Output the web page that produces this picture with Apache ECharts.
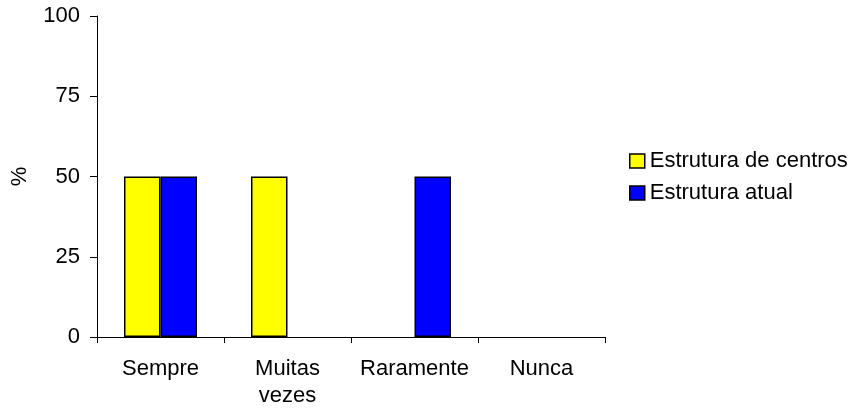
<!DOCTYPE html>
<html>
<head>
<meta charset="utf-8">
<style>
  html, body { margin: 0; padding: 0; background: #fff; }
  #chart { width: 854px; height: 408px; }
</style>
<script src="https://cdn.jsdelivr.net/npm/echarts@6/dist/echarts.min.js"></script>
</head>
<body>
<div id="chart"></div>
<script>
// Frequency categories and percentages for each structure
const categories = ['Sempre', 'Muitas\nvezes', 'Raramente', 'Nunca'];
const estruturaCentros = [50, 50, 0, 0];
const estruturaAtual = [50, 0, 50, 0];
const yTicks = [0, 25, 50, 75, 100];

const font = 'Liberation Sans, Arial, sans-serif';
const chart = echarts.init(document.getElementById('chart'));

// Zero-height bars get no outline so they leave no trace on the axis
function barData(values) {
  return values.map(v => v === 0
    ? { value: v, itemStyle: { borderWidth: 0, opacity: 0 } }
    : v);
}

chart.setOption({
  animation: false,
  backgroundColor: '#fff',
  textStyle: { fontFamily: font, color: '#000' },
  grid: {
    left: 97, right: 249, top: 16, bottom: 71,
    containLabel: false, outerBoundsMode: 'none'
  },
  legend: {
    orient: 'vertical',
    left: 629,
    top: 150,
    padding: 0,
    itemWidth: 15,
    itemHeight: 14,
    itemGap: 10,
    icon: 'rect',
    itemStyle: { borderColor: '#000', borderWidth: 1.5 },
    textStyle: { fontFamily: font, fontSize: 22, color: '#000' },
    data: ['Estrutura de centros', 'Estrutura atual']
  },
  xAxis: {
    type: 'category',
    data: categories,
    boundaryGap: true,
    axisLine: { lineStyle: { color: '#000', width: 1 } },
    axisTick: { show: true, length: 6, lineStyle: { color: '#000' } },
    axisLabel: {
      fontFamily: font, fontSize: 22, color: '#000',
      margin: 18, lineHeight: 27, interval: 0
    },
    splitLine: { show: false }
  },
  yAxis: {
    type: 'value',
    min: yTicks[0],
    max: yTicks[yTicks.length - 1],
    interval: yTicks[1] - yTicks[0],
    name: '%',
    nameLocation: 'middle',
    nameGap: 66,
    nameRotate: 90,
    nameTextStyle: { fontFamily: font, fontSize: 22, color: '#000' },
    axisLine: { show: true, lineStyle: { color: '#000', width: 1 } },
    axisTick: { show: true, length: 7, lineStyle: { color: '#000' } },
    axisLabel: { fontFamily: font, fontSize: 22, color: '#000', margin: 17 },
    splitLine: { show: false }
  },
  series: [
    {
      name: 'Estrutura de centros',
      type: 'bar',
      data: barData(estruturaCentros),
      barGap: '0%',
      barCategoryGap: '42.5%',
      itemStyle: { color: '#FFFF00', borderColor: '#000', borderWidth: 1.5 }
    },
    {
      name: 'Estrutura atual',
      type: 'bar',
      data: barData(estruturaAtual),
      barGap: '0%',
      barCategoryGap: '42.5%',
      itemStyle: { color: '#0000FF', borderColor: '#000', borderWidth: 1.5 }
    }
  ]
});
</script>
</body>
</html>
